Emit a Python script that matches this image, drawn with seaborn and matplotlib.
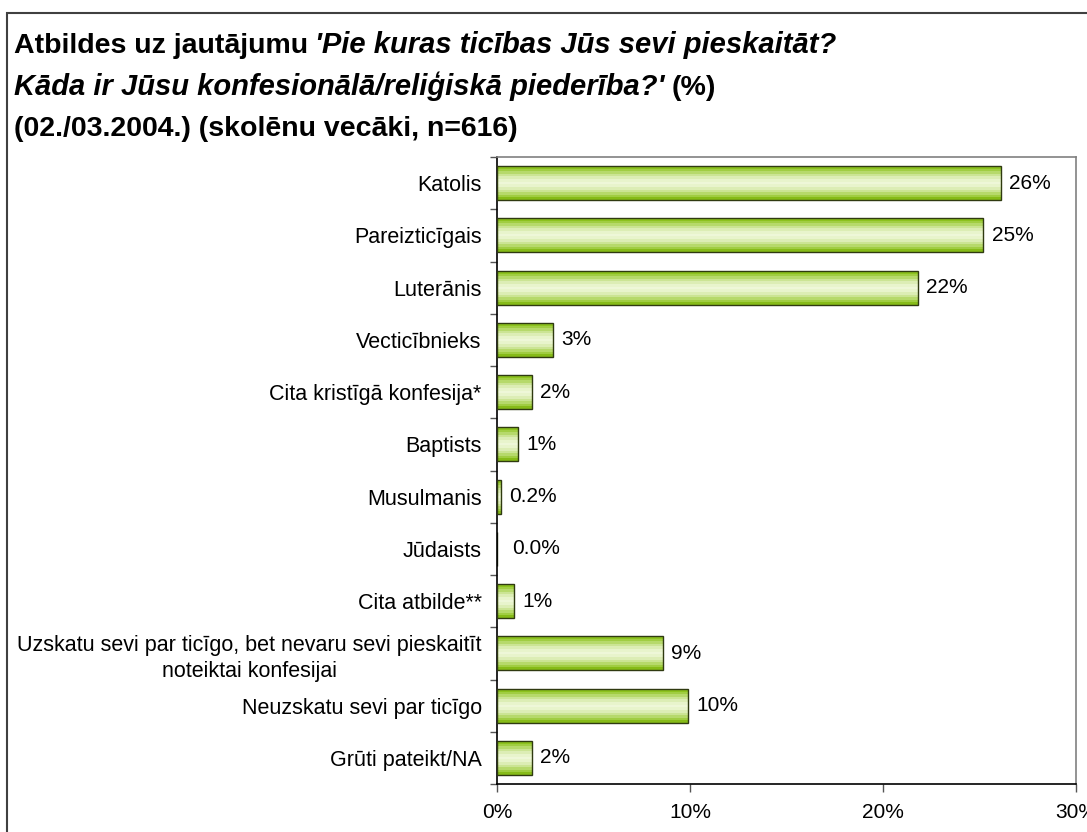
import numpy as np
import matplotlib
matplotlib.use("Agg")
import matplotlib.pyplot as plt
import seaborn as sns
from matplotlib.colors import ListedColormap
from matplotlib.patches import Rectangle
from matplotlib.ticker import FixedLocator, FuncFormatter

# data
categories = [
    "Katolis",
    "Pareizticīgais",
    "Luterānis",
    "Vecticībnieks",
    "Cita kristīgā konfesija*",
    "Baptists",
    "Musulmanis",
    "Jūdaists",
    "Cita atbilde**",
    "Uzskatu sevi par ticīgo, bet nevaru sevi pieskaitīt\nnoteiktai konfesijai",
    "Neuzskatu sevi par ticīgo",
    "Grūti pateikt/NA",
]
values = [26.1, 25.2, 21.8, 2.9, 1.8, 1.1, 0.2, 0.0, 0.9, 8.6, 9.9, 1.8]
value_labels = ["26%", "25%", "22%", "3%", "2%", "1%", "0.2%", "0.0%", "1%", "9%", "10%", "2%"]
x_ticks = [0, 10, 20, 30]

title_lines = [
    [("Atbildes uz jautājumu", "normal"), ("'Pie kuras ticības Jūs sevi pieskaitāt?", "italic")],
    [("Kāda ir Jūsu konfesionālā/reliģiskā piederība?'", "italic"), ("(%)", "normal")],
    [("(02./03.2004.) (skolēnu vecāki, n=616)", "normal")],
]

sns.set_theme(style="white")
plt.rcParams['font.family'] = ['Liberation Sans', 'DejaVu Sans']

W, H = 1087, 832
fig = plt.figure(figsize=(W / 100, H / 100), dpi=100)
fig.patch.set_facecolor('white')
ax = fig.add_axes([497 / W, 1 - 784 / H, (1076 - 497) / W, (784 - 157) / H])

sns.barplot(x=values, y=categories, orient='h', color='#9acd32', width=0.65,
            edgecolor='#2f3a10', linewidth=1.0, ax=ax)

# striped green gradient inside the bars (excel style)
stripes = ['#8cc21e', '#a0cd42', '#b6d96b', '#cbe494', '#dcedb5', '#e8f4cc',
           '#eef7d8', '#e8f4cc', '#dcedb5', '#cbe494', '#b6d96b', '#a0cd42', '#86bb18']
cmap = ListedColormap(stripes)
grad = np.arange(len(stripes)).reshape(-1, 1)
for p in ax.patches:
    w = p.get_width()
    if w <= 0:
        continue
    x0, y0, h = p.get_x(), p.get_y(), p.get_height()
    p.set_facecolor('none')
    p.set_zorder(3)
    ax.imshow(grad, cmap=cmap, aspect='auto', interpolation='nearest',
              extent=(x0, x0 + w, y0 + h, y0), zorder=2)

ax.set_xlim(0, 30)
ax.set_ylim(len(categories) - 0.5, -0.5)

anns = ax.bar_label(ax.containers[0], labels=value_labels, padding=6, fontsize=15, color='black')
for a, v in zip(anns, values):
    if v == 0:
        a.xyann = (11, 0)

# axes styling
for s in ['left', 'bottom']:
    ax.spines[s].set_color('black')
    ax.spines[s].set_linewidth(1.2)
for s in ['top', 'right']:
    ax.spines[s].set_color('#808080')
    ax.spines[s].set_linewidth(1.2)

ax.set_xlabel('')
ax.set_ylabel('')
ax.set_xticks(x_ticks)
ax.xaxis.set_major_formatter(FuncFormatter(lambda v, pos: f"{v:.0f}%"))
ax.tick_params(axis='x', bottom=True, length=6, width=1, color='#555555',
               labelsize=15, pad=8, labelcolor='black')

ax.set_yticks(range(len(categories)))
ax.set_yticklabels(categories)
for t in ax.get_yticklabels():
    t.set_multialignment('center')
    t.set_linespacing(1.35)
ax.tick_params(axis='y', which='major', left=False, length=0, labelsize=15.5, pad=11, labelcolor='black')
ax.yaxis.set_minor_locator(FixedLocator(np.arange(-0.5, len(categories), 1)))
ax.tick_params(axis='y', which='minor', left=True, length=5, width=1, color='#555555')

# outer frame (excel chart area border, cut off at right/bottom)
fig.patches.append(Rectangle((7 / W, -0.05), 1.2, 1 - 13 / H + 0.05, transform=fig.transFigure,
                             fill=False, edgecolor='#404040', linewidth=1.5))

# title with mixed upright / italic pieces
renderer = fig.canvas.get_renderer()
baselines = [53, 95, 136]
gap = 7
for parts, yb in zip(title_lines, baselines):
    xpx = 14
    for txt, style in parts:
        size = 21 if style == 'italic' else 20.5
        t = fig.text(xpx / W, 1 - yb / H, txt, fontsize=size, fontweight='bold',
                     fontstyle=style, va='baseline', ha='left', color='black')
        bb = t.get_window_extent(renderer)
        xpx = bb.x1 + gap

fig.savefig('out.png', dpi=100)
